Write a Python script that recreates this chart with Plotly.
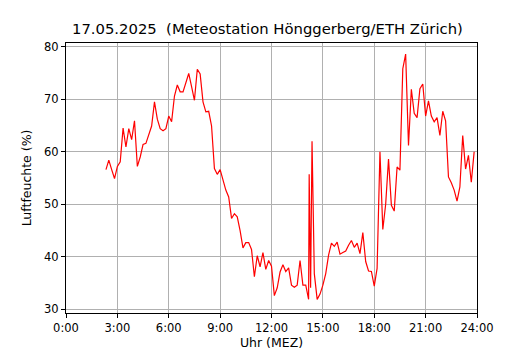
import plotly.graph_objects as go

times = ["02:20", "02:30", "02:40", "02:50", "03:00", "03:10", "03:20", "03:30", "03:40", "03:50",
         "04:00", "04:10", "04:20", "04:30", "04:40", "04:50", "05:00", "05:10", "05:20", "05:30",
         "05:40", "05:50", "06:00", "06:10", "06:20", "06:30", "06:40", "06:50", "07:00", "07:10",
         "07:20", "07:30", "07:40", "07:50", "08:00", "08:10", "08:20", "08:30", "08:40", "08:50",
         "09:00", "09:10", "09:20", "09:30", "09:40", "09:50", "10:00", "10:10", "10:20", "10:30",
         "10:40", "10:50", "11:00", "11:10", "11:20", "11:30", "11:40", "11:50", "12:00", "12:10",
         "12:20", "12:30", "12:40", "12:50", "13:00", "13:10", "13:20", "13:30", "13:40", "13:50",
         "14:00", "14:10", "14:12", "14:17", "14:22", "14:30", "14:40", "14:50", "15:00", "15:10",
         "15:20", "15:30", "15:40", "15:50", "16:00", "16:10", "16:20", "16:30", "16:40", "16:50",
         "17:00", "17:10", "17:20", "17:30", "17:40", "17:50", "18:00", "18:10", "18:20", "18:30",
         "18:40", "18:50", "19:00", "19:10", "19:20", "19:30", "19:40", "19:50", "20:00", "20:10",
         "20:20", "20:30", "20:40", "20:50", "21:00", "21:10", "21:20", "21:30", "21:40", "21:50",
         "22:00", "22:10", "22:20", "22:30", "22:40", "22:50", "23:00", "23:10", "23:20", "23:30",
         "23:40", "23:50"]

humidity = [56.6, 58.4, 56.6, 54.9, 57.2, 58.1, 64.5, 60.9, 64.4, 62.3,
            65.9, 57.2, 59.0, 61.4, 61.6, 63.1, 64.9, 69.5, 66.2, 64.4,
            64.0, 64.4, 66.8, 65.7, 70.6, 72.7, 71.4, 71.4, 73.3, 74.9,
            72.4, 69.8, 75.7, 74.8, 69.5, 67.6, 67.7, 64.9, 56.8, 55.7,
            56.6, 54.6, 52.7, 51.4, 47.3, 48.2, 47.6, 45.0, 41.7, 42.7,
            42.7, 41.4, 36.2, 40.2, 38.1, 40.8, 37.6, 39.3, 38.2, 32.6,
            34.1, 37.1, 38.5, 37.2, 37.9, 34.6, 34.2, 34.6, 39.3, 34.6,
            34.6, 31.9, 55.7, 34.1, 62.0, 36.8, 31.9, 32.9, 34.6, 36.8,
            40.3, 42.6, 42.0, 42.8, 40.5, 40.8, 41.1, 42.2, 43.1, 41.8,
            42.6, 40.6, 44.6, 39.1, 37.3, 37.2, 34.4, 37.8, 60.0, 45.2,
            50.0, 58.6, 49.8, 48.7, 57.1, 56.5, 75.8, 78.6, 61.2, 71.9,
            67.3, 66.5, 72.0, 72.9, 66.8, 69.7, 66.8, 65.7, 66.5, 63.1,
            67.7, 65.9, 55.2, 54.1, 52.7, 50.6, 53.3, 63.1, 56.7, 59.3,
            54.2, 60.0]

tick_hours = [0, 3, 6, 9, 12, 15, 18, 21, 24]
tick_labels = ["0:00", "3:00", "6:00", "9:00", "12:00", "15:00", "18:00", "21:00", "24:00"]

hours = [int(t[:2]) + int(t[3:]) / 60 for t in times]

font = "DejaVu Sans"

fig = go.Figure()
fig.add_trace(go.Scatter(x=hours, y=humidity, mode="lines",
                         line=dict(color="red", width=1.2), showlegend=False,
                         hovertemplate="%{y:.1f} %<extra></extra>"))

axis_common = dict(showline=True, mirror=True, linecolor="black", linewidth=1,
                   ticks="outside", ticklen=4, tickwidth=1, tickcolor="black",
                   showgrid=True, gridcolor="#b0b0b0", gridwidth=1, zeroline=False,
                   automargin=False,
                   tickfont=dict(family=font, size=11.5, color="black"))

# page body has an 8px margin, so the figure is 8px smaller than the window
W, H = 522, 342
fig.update_layout(
    width=W, height=H,
    margin=dict(l=58, r=53, t=35, b=37, autoexpand=False),
    paper_bgcolor="white", plot_bgcolor="white",
    font=dict(family=font, color="black"),
    title=dict(text="17.05.2025  (Meteostation Hönggerberg/ETH Zürich)",
               x=0.49, xref="paper", xanchor="center",
               y=1 - 21 / H, yref="container", yanchor="middle",
               font=dict(family=font, size=14.8, color="black")),
    xaxis=dict(range=[0, 24], tickvals=tick_hours, ticktext=tick_labels,
               title=dict(text="Uhr (MEZ)", standoff=5, font=dict(family=font, size=12.5)),
               **axis_common),
    yaxis=dict(range=[29.3, 80.7], tick0=30, dtick=10,
               title=dict(text="Luftfeuchte (%)", standoff=9, font=dict(family=font, size=12.5)),
               **axis_common),
)

fig.write_html("out.html")
